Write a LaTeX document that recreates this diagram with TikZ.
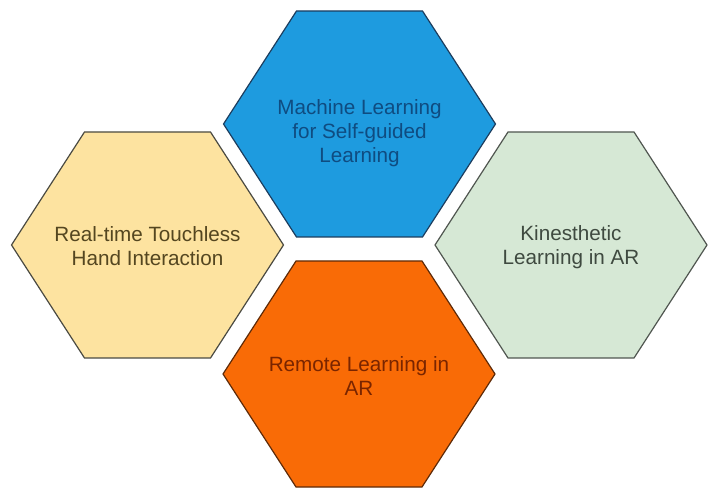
\documentclass[tikz,border=0pt]{standalone}
\usepackage{fontspec}
\setmainfont{Liberation Sans}
\definecolor{mlfill}{HTML}{1E9BDF}
\definecolor{mlline}{HTML}{1C3D5E}
\definecolor{mltext}{HTML}{0F4C81}
\definecolor{handfill}{HTML}{FDE3A0}
\definecolor{handline}{HTML}{4A4A42}
\definecolor{handtext}{HTML}{544620}
\definecolor{kinfill}{HTML}{D6E8D5}
\definecolor{kinline}{HTML}{505650}
\definecolor{kintext}{HTML}{3F4A40}
\definecolor{remfill}{HTML}{F96B06}
\definecolor{remline}{HTML}{5E2A08}
\definecolor{remtext}{HTML}{7A2500}
\tikzset{
	hexa/.style={line width=0.9pt, line join=miter},
	hextext/.style={align=center, font=\fontsize{15.5}{18}\selectfont}
}
\begin{document}
\begin{tikzpicture}[x=0.75pt, y=-0.75pt]
	\useasboundingbox (0, 0) rectangle (720, 498);
	% hexagons
	\draw[hexa, fill=mlfill, draw=mlline, shift={(359.5, 124)}] (-136, 0) -- (-63, -113) -- (63, -113) -- (136, 0) -- (63, 113) -- (-63, 113) -- cycle;
	\draw[hexa, fill=handfill, draw=handline, shift={(147.5, 245)}] (-136, 0) -- (-63, -113) -- (63, -113) -- (136, 0) -- (63, 113) -- (-63, 113) -- cycle;
	\draw[hexa, fill=kinfill, draw=kinline, shift={(571, 245)}] (-136, 0) -- (-63, -113) -- (63, -113) -- (136, 0) -- (63, 113) -- (-63, 113) -- cycle;
	\draw[hexa, fill=remfill, draw=remline, shift={(359, 374)}] (-136, 0) -- (-63, -113) -- (63, -113) -- (136, 0) -- (63, 113) -- (-63, 113) -- cycle;
	% labels
	\node[hextext, text=mltext] (ml) at (359.5, 133) {Machine Learning\\for Self-guided\\Learning};
	\node[hextext, text=handtext] (hand) at (147.5, 246.5) {Real-time Touchless\\Hand Interaction};
	\node[hextext, text=kintext] (kin) at (571, 247) {Kinesthetic\\Learning in AR};
	\node[hextext, text=remtext] (rem) at (359, 376) {Remote Learning in\\AR};
\end{tikzpicture}
\end{document}
